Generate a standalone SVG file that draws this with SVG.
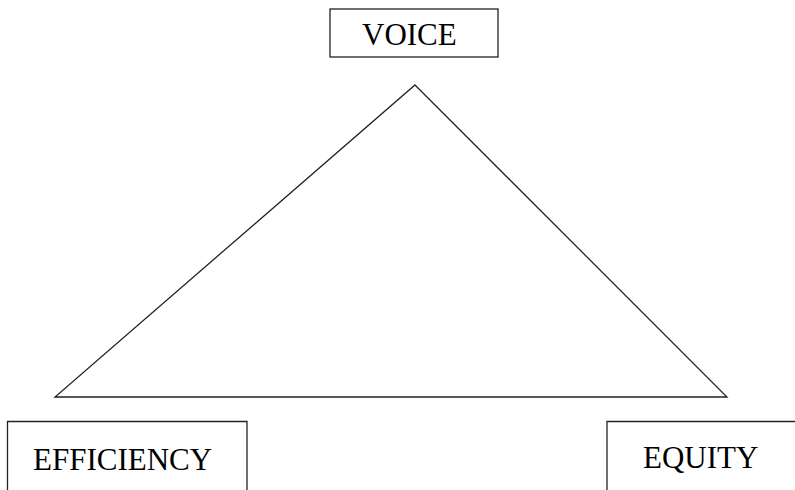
<svg xmlns="http://www.w3.org/2000/svg" width="795" height="490" viewBox="0 0 795 490">
<style>
.box{fill:none;stroke:#222;stroke-width:1.3}
.lbl{font-family:"Liberation Serif",serif;font-size:31px;fill:#000}
.edge{fill:none;stroke:#222;stroke-width:1.3}
</style>
<rect width="795" height="490" fill="#fff"/>
<g id="connectors">
<polygon class="edge" points="415,85 727,397 55,397"/>
</g>
<g id="voice">
<rect class="box" x="330" y="9" width="168" height="48"/>
<text class="lbl" x="362" y="45">VOICE</text>
</g>
<g id="efficiency">
<path class="box" d="M7.5,492 V421.5 H247 V492"/>
<text class="lbl" x="33" y="470">EFFICIENCY</text>
</g>
<g id="equity">
<path class="box" d="M607,492 V421.5 H797"/>
<text class="lbl" x="643" y="468">EQUITY</text>
</g>
</svg>
